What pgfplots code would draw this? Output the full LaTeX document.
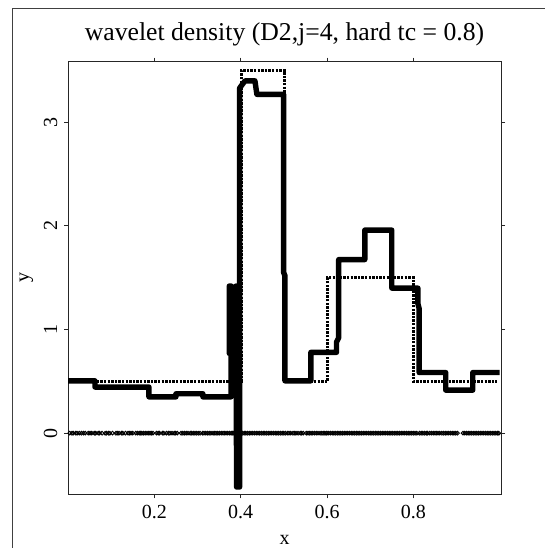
\documentclass[border=0pt]{standalone}
\usepackage{fontspec}
\setmainfont{Liberation Serif}
\usepackage{pgfplots}
\pgfplotsset{compat=1.18}
\begin{document}
\begin{tikzpicture}[x=1pt,y=1pt]
\useasboundingbox (-68,-53.7) rectangle (477,494.3);
\fill[white] (-68,-53.7) rectangle (477,494.3);
\draw[black!75, line width=1pt] (-55,-60) -- (-55,485.3) -- (490,485.3);
\begin{axis}[
  at={(0pt,0pt)}, anchor=south west,
  width=433pt, height=432.6pt, scale only axis,
  xmin=0, xmax=1.003, ymin=-0.59, ymax=3.585,
  axis line style={black!85, line width=1pt},
  tick style={black!85, line width=1pt},
  tick align=outside, major tick length=4pt,
  xtick={0.2,0.4,0.6,0.8}, ytick={0,1,2,3},
  xticklabels={0.2,0.4,0.6,0.8}, yticklabels={0,1,2,3},
  xtick pos=both, ytick pos=both,
  xticklabel pos=lower, yticklabel pos=left,
  ticklabel style={font=\fontsize{20}{24}\selectfont},
  xticklabel style={anchor=base, yshift=-19.7pt},
  yticklabel style={rotate=90, anchor=base},
  yticklabel shift=7pt,
  title={wavelet density (D2,j=4, hard tc = 0.8)},
  title style={font=\fontsize{25.7}{30}\selectfont, at={(axis description cs:0.5,1.0351)}, anchor=base},
  xlabel={x},
  xlabel style={font=\fontsize{20}{24}\selectfont, at={(axis description cs:0.5,-0.1165)}, anchor=base},
  ylabel={y},
  ylabel style={font=\fontsize{20}{24}\selectfont, at={(axis description cs:-0.0901,0.5)}, anchor=base, rotate=0},
  clip=false,
]
% wavelet estimate (solid)
\addplot[black, line width=5.4pt, line join=round] coordinates {
(0,0.505) (0.0625,0.505) (0.0625,0.445) (0.1875,0.445) (0.1875,0.35) (0.25,0.35)
(0.25,0.38) (0.3125,0.38) (0.3125,0.35) (0.3775,0.35) (0.3775,0.77) (0.3735,0.77)
(0.3735,1.42) (0.378,1.42) (0.378,0.80) (0.389,0.80) (0.389,1.42) (0.3905,-0.52)
(0.393,-0.52) (0.393,1.42) (0.3955,-0.52) (0.3975,-0.52) (0.3975,3.33) (0.41,3.40)
(0.433,3.40) (0.4375,3.27) (0.4995,3.27) (0.4995,1.55) (0.5025,1.52) (0.5025,0.505)
(0.5625,0.505) (0.5625,0.78) (0.622,0.78) (0.622,0.88) (0.627,0.92) (0.627,1.675)
(0.6875,1.675) (0.6875,1.96) (0.75,1.96) (0.75,1.40) (0.8105,1.40) (0.8105,1.25)
(0.8135,1.2) (0.8135,0.585) (0.875,0.585) (0.875,0.415) (0.9375,0.415) (0.9375,0.585)
(1.0,0.585)
};
% true density (dotted)
\addplot[black, line width=3.3pt, dash pattern=on 2.4pt off 1.2pt] coordinates {
(0,0.5) (0.4015,0.5) (0.4015,3.5) (0.502,3.5) (0.502,0.5) (0.601,0.5) (0.601,1.5)
(0.800,1.5) (0.800,0.5) (0.994,0.5)
};
% data points at y = 0
\addplot[only marks, mark=o, mark size=1.9pt, mark options={line width=0.9pt, black}] coordinates {
(0.004,0) (0.009,0) (0.012,0) (0.018,0) (0.021,0) (0.026,0) (0.031,0) (0.036,0) (0.040,0)
(0.047,0) (0.051,0) (0.055,0) (0.061,0) (0.064,0) (0.070,0) (0.073,0) (0.079,0) (0.086,0)
(0.089,0) (0.094,0) (0.097,0) (0.103,0) (0.111,0) (0.114,0) (0.118,0) (0.124,0) (0.127,0)
(0.133,0) (0.139,0) (0.142,0) (0.146,0) (0.150,0) (0.157,0) (0.161,0) (0.165,0) (0.168,0)
(0.171,0) (0.175,0) (0.179,0) (0.183,0) (0.187,0) (0.190,0) (0.193,0) (0.197,0) (0.205,0)
(0.209,0) (0.212,0) (0.219,0) (0.222,0) (0.228,0) (0.233,0) (0.236,0) (0.241,0) (0.246,0)
(0.249,0) (0.253,0) (0.262,0) (0.266,0) (0.270,0) (0.274,0) (0.278,0) (0.283,0) (0.286,0)
(0.290,0) (0.294,0) (0.298,0) (0.302,0) (0.306,0) (0.312,0) (0.315,0) (0.319,0) (0.323,0)
(0.327,0) (0.331,0) (0.336,0) (0.340,0) (0.343,0) (0.347,0) (0.351,0) (0.355,0) (0.359,0)
(0.362,0) (0.366,0) (0.370,0) (0.374,0) (0.378,0) (0.381,0)
(0.384,0) (0.388,0) (0.392,0) (0.396,0) (0.400,0) (0.404,0) (0.408,0) (0.412,0) (0.416,0)
(0.420,0) (0.424,0) (0.428,0) (0.432,0) (0.436,0) (0.440,0) (0.444,0) (0.448,0) (0.452,0)
(0.456,0) (0.460,0) (0.464,0) (0.468,0) (0.472,0) (0.476,0) (0.480,0) (0.484,0) (0.488,0)
(0.492,0) (0.496,0) (0.500,0) (0.504,0)
(0.509,0) (0.512,0) (0.516,0) (0.521,0) (0.524,0) (0.528,0) (0.533,0) (0.538,0) (0.541,0)
(0.545,0) (0.552,0) (0.556,0) (0.559,0) (0.563,0) (0.567,0) (0.571,0) (0.575,0) (0.579,0)
(0.584,0) (0.588,0) (0.591,0) (0.595,0) (0.598,0)
(0.600,0) (0.604,0) (0.608,0) (0.612,0) (0.616,0) (0.620,0) (0.624,0) (0.628,0) (0.632,0)
(0.636,0) (0.640,0) (0.644,0) (0.648,0) (0.652,0) (0.656,0) (0.660,0) (0.664,0) (0.668,0)
(0.672,0) (0.676,0) (0.680,0) (0.684,0) (0.688,0) (0.692,0) (0.696,0) (0.700,0) (0.704,0)
(0.708,0) (0.712,0) (0.716,0) (0.720,0) (0.724,0) (0.728,0) (0.732,0) (0.736,0) (0.740,0)
(0.744,0) (0.748,0) (0.752,0) (0.756,0) (0.760,0) (0.764,0) (0.768,0) (0.772,0) (0.776,0)
(0.780,0) (0.784,0) (0.788,0) (0.792,0) (0.796,0) (0.800,0) (0.804,0) (0.808,0)
(0.814,0) (0.818,0) (0.822,0) (0.826,0) (0.830,0) (0.833,0) (0.838,0) (0.842,0) (0.846,0)
(0.850,0) (0.853,0) (0.857,0) (0.861,0) (0.866,0) (0.870,0) (0.874,0) (0.878,0) (0.882,0)
(0.886,0) (0.890,0) (0.894,0) (0.898,0) (0.902,0) (0.915,0) (0.919,0) (0.923,0) (0.927,0)
(0.931,0) (0.935,0) (0.939,0) (0.943,0) (0.947,0) (0.951,0) (0.955,0) (0.959,0) (0.963,0)
(0.967,0) (0.971,0) (0.975,0) (0.979,0) (0.983,0) (0.987,0) (0.991,0) (0.995,0) (0.998,0)
};
\end{axis}
\end{tikzpicture}
\end{document}
